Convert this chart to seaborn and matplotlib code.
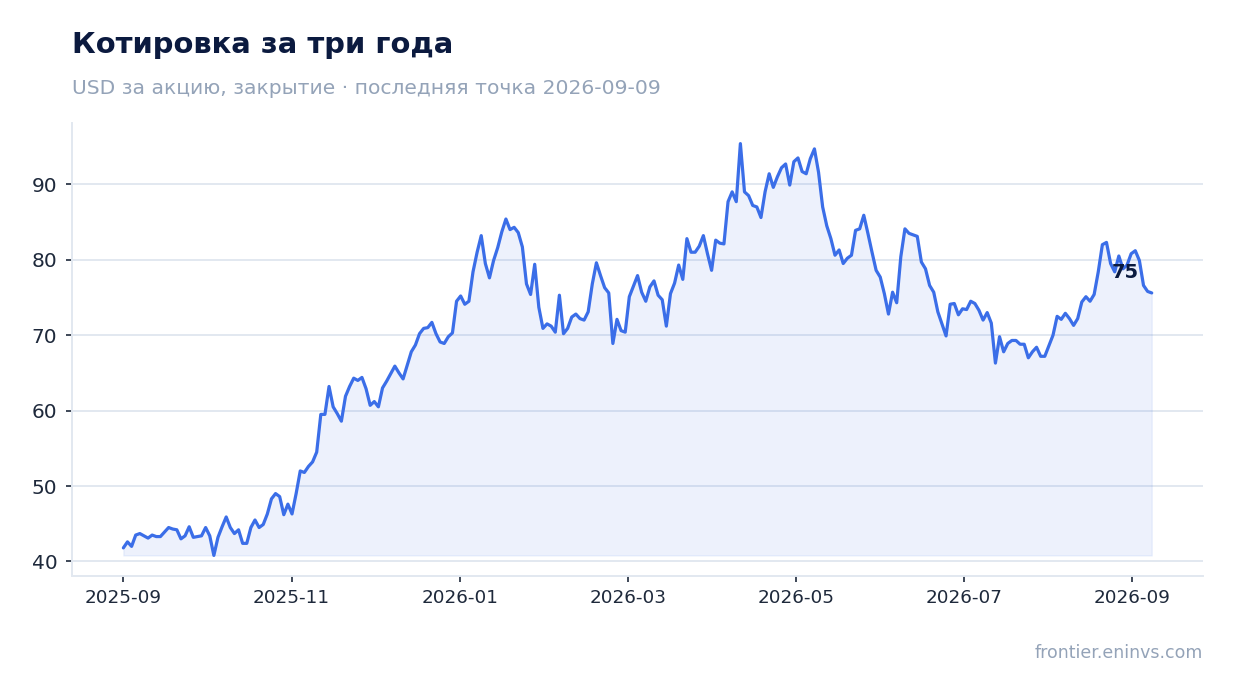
import numpy as np
import pandas as pd
import matplotlib
matplotlib.use("Agg")
import matplotlib.pyplot as plt
import matplotlib.dates as mdates
import seaborn as sns

# ---- data ----
start_date = "2025-09-01"
end_date = "2026-09-09"

prices = [
    41.8, 42.6, 42.0, 43.5, 43.7, 43.4, 43.1, 43.5, 43.3, 43.3,
    43.9, 44.5, 44.3, 44.2, 43.0, 43.4, 44.6, 43.2, 43.3, 43.4,
    44.5, 43.4, 40.8, 43.2, 44.6, 45.9, 44.5, 43.7, 44.2, 42.4,
    42.4, 44.5, 45.5, 44.5, 44.9, 46.3, 48.3, 49.0, 48.6, 46.2,
    47.6, 46.3, 49.0, 52.0, 51.8, 52.6, 53.2, 54.5, 59.5, 59.5,
    63.2, 60.5,
    59.6, 58.6, 61.9, 63.2, 64.3, 64.0, 64.4, 62.9, 60.7, 61.2,
    60.5, 63.0, 63.9, 64.9, 65.9, 65.0, 64.2, 66.0, 67.8, 68.7,
    70.2, 70.9, 71.0, 71.7, 70.2, 69.1, 68.9, 69.8, 70.3, 74.5,
    75.2, 74.1, 74.5, 78.4, 81.0, 83.2, 79.5, 77.6, 79.9, 81.6,
    83.7, 85.4, 84.0, 84.3, 83.6, 81.7, 76.8, 75.4, 79.4, 73.7,
    70.9, 71.5, 71.2, 70.4, 75.3, 70.2,
    70.9, 72.4, 72.8, 72.2, 72.0, 73.1, 76.8, 79.6, 77.9, 76.3,
    75.6, 68.9, 72.1, 70.6, 70.4, 75.1, 76.5, 77.9, 75.7, 74.5,
    76.4, 77.2, 75.3, 74.7, 71.2, 75.5, 76.9, 79.3, 77.4, 82.8,
    81.0, 81.0, 81.8, 83.2, 80.8, 78.6, 82.6, 82.2, 82.1, 87.7,
    89.0, 87.7, 95.4, 89.0, 88.5, 87.2, 87.0, 85.6, 89.0, 91.4,
    89.6, 91.0, 92.2, 92.7, 89.9, 93.0,
    93.5, 91.7, 91.4, 93.4, 94.7, 91.6, 87.0, 84.5, 82.8, 80.6,
    81.3, 79.5, 80.2, 80.6, 83.9, 84.1, 85.9, 83.5, 81.0, 78.6,
    77.7, 75.5, 72.8, 75.7, 74.3, 80.4, 84.1, 83.5, 83.3, 83.1,
    79.7, 78.8, 76.6, 75.7, 73.1, 71.5, 69.9, 74.1, 74.2, 72.7,
    73.5, 73.4, 74.5, 74.2, 73.3, 72.0, 73.0, 71.6, 66.3, 69.8,
    67.8, 68.9, 69.3,
    69.3, 68.8, 68.8, 67.0, 67.8, 68.4, 67.2, 67.2, 68.6, 70.0,
    72.5, 72.1, 72.9, 72.2, 71.3, 72.2, 74.4, 75.1, 74.5, 75.4,
    78.4, 82.0, 82.3, 79.5, 78.4, 80.5, 78.8, 79.3, 80.8, 81.2,
    79.9, 76.6, 75.8, 75.6,
]

title = "Котировка за три года"
subtitle = "USD за акцию, закрытие · последняя точка 2026-09-09"
footer = "frontier.eninvs.com"

# ---- styling ----
LINE = "#3b6ee8"
NAVY = "#0b1a3f"
MUTED = "#94a3b8"
GRID = "#e2e8f0"
TICK = "#1e293b"

sns.set_theme(style="white")
plt.rcParams["font.family"] = ["DejaVu Sans"]

dates = pd.date_range(start_date, end_date, periods=len(prices))
df = pd.DataFrame({"date": dates, "price": prices})

fig = plt.figure(figsize=(12.34, 6.93), dpi=100)
ax = fig.add_axes([0.0583, 0.1688, 0.9167, 0.6537])

base = min(prices)
ax.fill_between(df["date"], df["price"], base, color=LINE, alpha=0.09, linewidth=1.0)
sns.lineplot(data=df, x="date", y="price", ax=ax, color=LINE, linewidth=2.3)

ax.margins(x=0.05, y=0.05)
ax.set_xlabel("")
ax.set_ylabel("")

# ticks evenly spaced (every 61 days) as in the reference
tick_dates = pd.date_range(start_date, periods=7, freq="61D")
ax.set_xticks(tick_dates)
ax.xaxis.set_major_formatter(mdates.DateFormatter("%Y-%m"))
ax.set_yticks([40, 50, 60, 70, 80, 90])

ax.grid(axis="y", color=GRID, linewidth=1.4)
ax.grid(axis="x", visible=False)
ax.set_axisbelow(True)

for side in ["top", "right"]:
    ax.spines[side].set_visible(False)
for side in ["left", "bottom"]:
    ax.spines[side].set_color(GRID)
    ax.spines[side].set_linewidth(1.4)

ax.tick_params(axis="y", labelsize=14.5, colors=TICK, length=4.5, width=1.2, pad=6, left=True)
ax.tick_params(axis="x", labelsize=13.2, colors=TICK, length=4.5, width=1.2, pad=5, bottom=True)
for t in ax.get_xticklines() + ax.get_yticklines():
    t.set_color("#334155")

# last value annotation
last_x = df["date"].iloc[-1]
last_y = df["price"].iloc[-1]
ax.annotate(f"{int(last_y)}", xy=(last_x, last_y), xytext=(-19, 15),
            textcoords="offset points", ha="center", va="center",
            fontsize=14, fontweight="bold", color=NAVY)

fig.text(72 / 1234, 1 - 53 / 693, title, fontsize=20.9, fontweight="bold",
         color=NAVY, ha="left", va="baseline")
fig.text(72 / 1234, 1 - 93.5 / 693, subtitle, fontsize=14.6, color=MUTED,
         ha="left", va="baseline")
fig.text(1203 / 1234, 1 - 658 / 693, footer, fontsize=12.5, color=MUTED,
         ha="right", va="baseline")

fig.savefig("out.png", dpi=100)
